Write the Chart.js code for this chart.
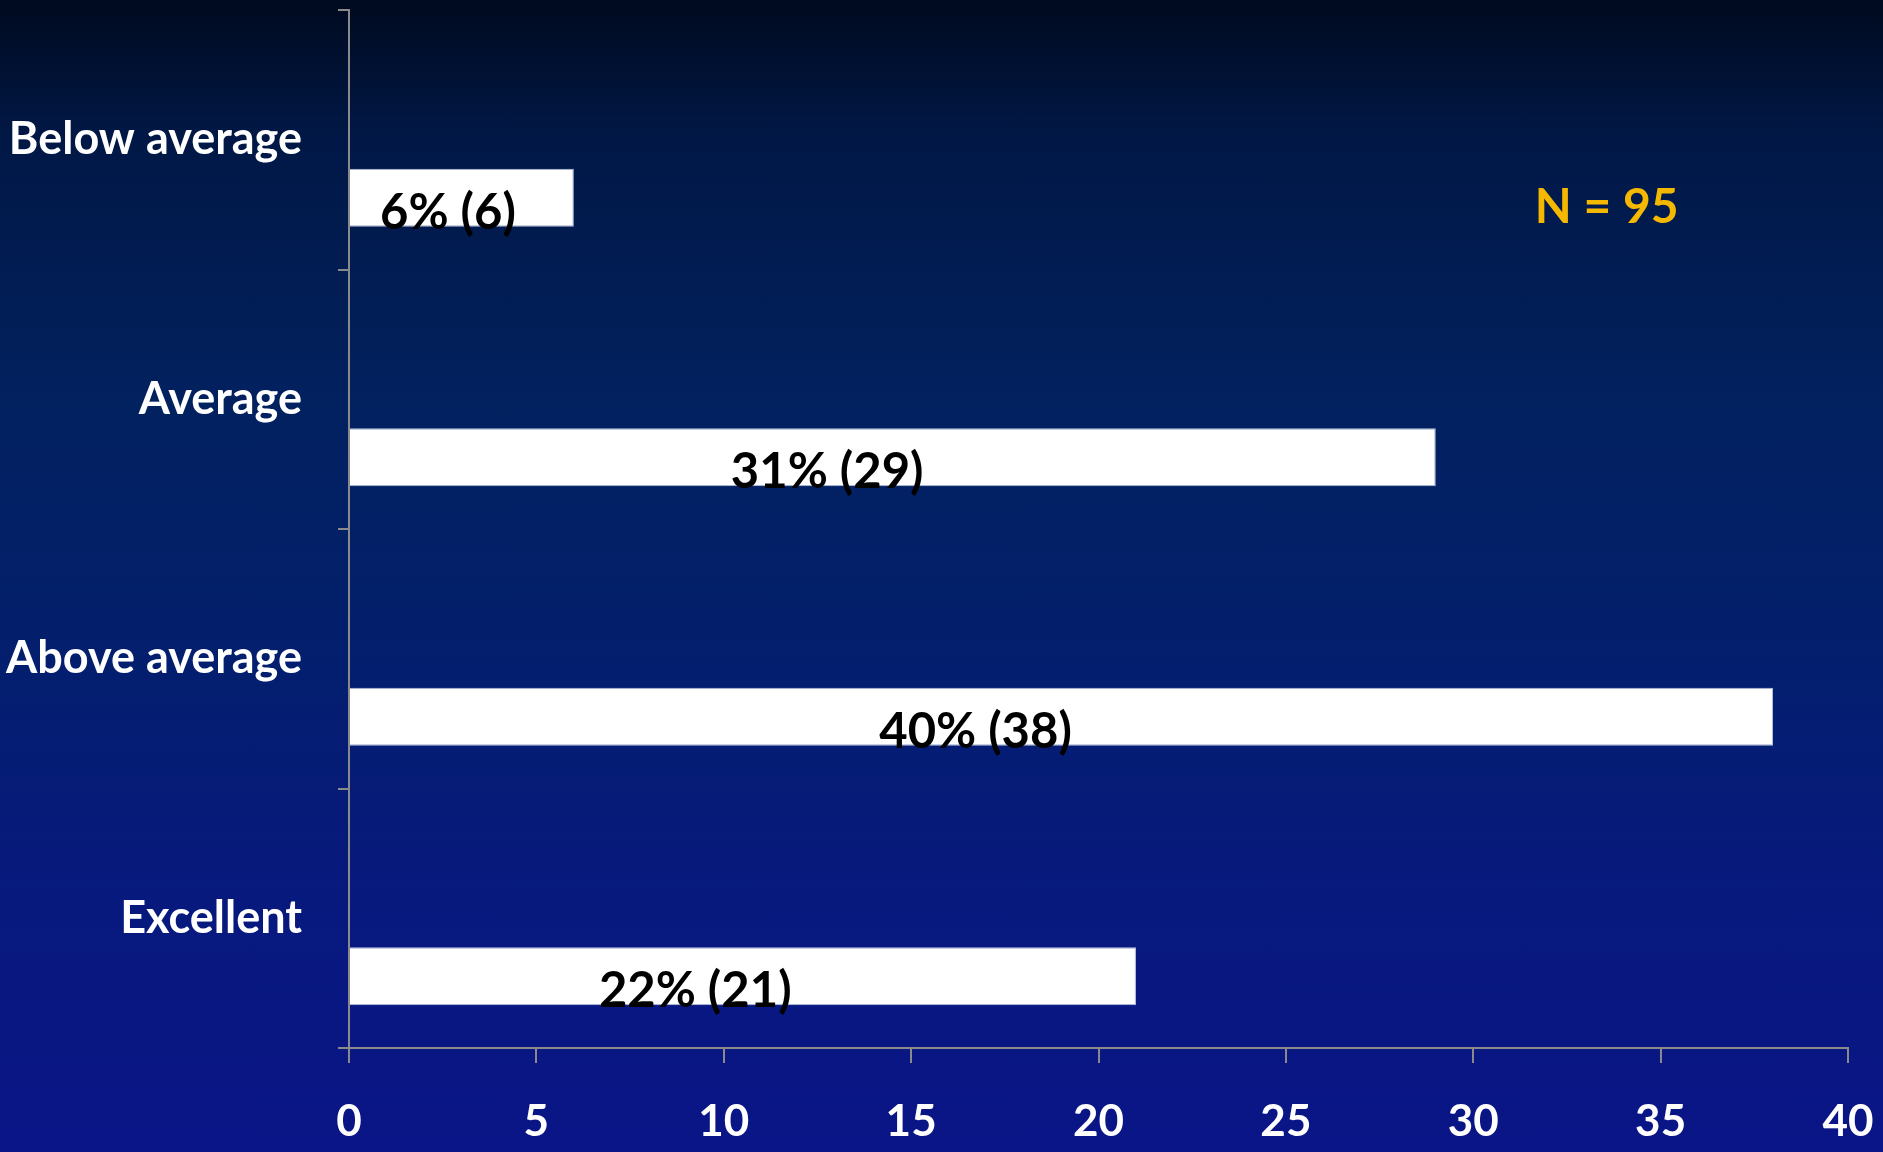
<!DOCTYPE html>
<html>
<head>
<meta charset="utf-8">
<title>Rating distribution</title>
<script src="https://cdn.jsdelivr.net/npm/chart.js@4/dist/chart.umd.min.js"></script>
<style>
  html, body { margin: 0; padding: 0; }
  body {
    width: 1883px; height: 1152px; overflow: hidden;
    background: linear-gradient(to bottom,
      #000a1f 0%, #011846 12%, #02215f 35%, #031f6c 55%, #071a7c 75%, #0a1587 100%);
  }
  #wrap { position: relative; width: 1883px; height: 1152px; }
</style>
</head>
<body>
<div id="wrap"><canvas id="chart" width="1883" height="1152"></canvas></div>
<script>
// Survey answers, respondents per rating
const categories = ['Below average', 'Average', 'Above average', 'Excellent'];
const counts = [6, 29, 38, 21];
const totalN = 95;
const axisMin = 0;
const axisMax = 40;
const axisStep = 5;

const FONT = 'Lato, "Open Sans", "Noto Sans", sans-serif';
const AXIS_GREY = '#8a8a8a';

function pctLabel(c) {
  return Math.round(c / totalN * 100) + '% (' + c + ')';
}

// Writes "xx% (n)" across each bar, plus the sample size note
const barLabels = {
  id: 'barLabels',
  afterDatasetsDraw(chart) {
    const ctx = chart.ctx;
    const xs = chart.scales.x;
    const meta = chart.getDatasetMeta(2);
    ctx.save();
    ctx.font = 'bold 49px ' + FONT;
    ctx.fillStyle = '#000000';
    ctx.textAlign = 'center';
    ctx.textBaseline = 'middle';
    meta.data.forEach((bar, i) => {
      const text = pctLabel(counts[i]);
      const w = ctx.measureText(text).width;
      let cx = xs.getPixelForValue(counts[i] * 0.44);
      cx = Math.max(cx, bar.base + 5 + w / 2);
      ctx.fillText(text, cx, bar.y + 15);
    });
    ctx.fillStyle = '#f5b800';
    ctx.font = 'bold 48px ' + FONT;
    const area = chart.chartArea;
    ctx.fillText('N = ' + totalN, area.left + (area.right - area.left) * 0.839, area.top + 198);
    ctx.restore();
  }
};

function build() {
  new Chart(document.getElementById('chart'), {
    type: 'bar',
    data: {
      labels: categories,
      datasets: [
        { label: 'spacer a', data: categories.map(() => null), backgroundColor: 'rgba(0,0,0,0)' },
        { label: 'spacer b', data: categories.map(() => null), backgroundColor: 'rgba(0,0,0,0)' },
        {
          label: 'Respondents',
          data: counts,
          backgroundColor: '#ffffff',
          borderColor: '#b4c0da',
          borderWidth: 1,
          borderSkipped: 'start'
        }
      ]
    },
    options: {
      indexAxis: 'y',
      responsive: false,
      animation: false,
      events: [],
      layout: { padding: { top: 10, right: 35, left: 0, bottom: 0 } },
      datasets: { bar: { categoryPercentage: 0.67, barPercentage: 1.0 } },
      plugins: {
        legend: { display: false },
        tooltip: { enabled: false }
      },
      scales: {
        x: {
          type: 'linear',
          min: axisMin,
          max: axisMax,
          afterFit(scale) {
            scale.height = 104;
            scale.paddingLeft = 0;
            scale.paddingRight = 0;
          },
          ticks: {
            stepSize: axisStep,
            color: '#ffffff',
            font: { family: FONT, weight: 'bold', size: 44 },
            padding: 32
          },
          grid: {
            drawOnChartArea: false,
            drawTicks: true,
            tickLength: 15,
            color: AXIS_GREY,
            lineWidth: 2
          },
          border: { display: true, color: AXIS_GREY, width: 2 }
        },
        y: {
          type: 'category',
          afterFit(scale) {
            scale.width = 349;
            scale.paddingTop = 0;
            scale.paddingBottom = 0;
          },
          ticks: {
            color: '#ffffff',
            font: { family: FONT, weight: 'bold', size: 45 },
            padding: 36
          },
          grid: {
            offset: true,
            drawOnChartArea: false,
            drawTicks: true,
            tickLength: 11,
            color: AXIS_GREY,
            lineWidth: 2
          },
          border: { display: true, color: AXIS_GREY, width: 2 }
        }
      }
    },
    plugins: [barLabels]
  });
}

if (document.fonts && document.fonts.load) {
  Promise.all([
    document.fonts.load('bold 40px Lato'),
    document.fonts.load('bold 48px Lato')
  ]).then(build, build);
} else {
  build();
}
</script>
</body>
</html>
